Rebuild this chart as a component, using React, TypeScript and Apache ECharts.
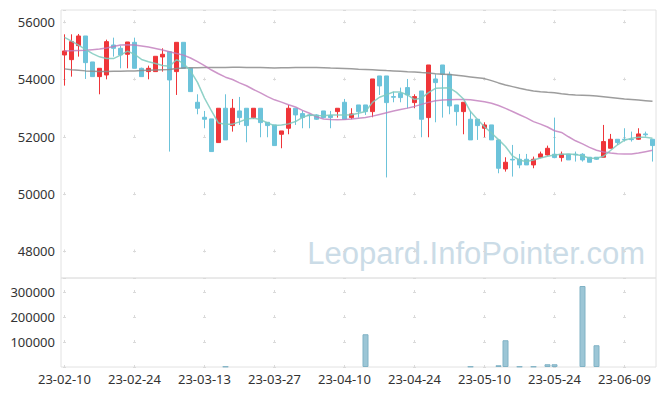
import React, { useEffect, useRef } from 'react';
import * as echarts from 'echarts';

const dates = [
  '23-02-10', '23-02-13', '23-02-14', '23-02-15', '23-02-16', '23-02-17', '23-02-20', '23-02-21', '23-02-22', '23-02-23',
  '23-02-24', '23-02-27', '23-02-28', '23-03-02', '23-03-03', '23-03-06', '23-03-07', '23-03-08', '23-03-09', '23-03-10',
  '23-03-13', '23-03-14', '23-03-15', '23-03-16', '23-03-17', '23-03-20', '23-03-21', '23-03-22', '23-03-23', '23-03-24',
  '23-03-27', '23-03-28', '23-03-29', '23-03-30', '23-03-31', '23-04-03', '23-04-04', '23-04-05', '23-04-06', '23-04-07',
  '23-04-10', '23-04-11', '23-04-12', '23-04-13', '23-04-14', '23-04-17', '23-04-18', '23-04-19', '23-04-20', '23-04-21',
  '23-04-24', '23-04-25', '23-04-26', '23-04-27', '23-04-28', '23-05-02', '23-05-03', '23-05-04', '23-05-08', '23-05-09',
  '23-05-10', '23-05-11', '23-05-12', '23-05-15', '23-05-16', '23-05-17', '23-05-18', '23-05-19', '23-05-22', '23-05-23',
  '23-05-24', '23-05-25', '23-05-26', '23-05-30', '23-05-31', '23-06-01', '23-06-02', '23-06-05', '23-06-07', '23-06-08',
  '23-06-09', '23-06-12', '23-06-13', '23-06-14', '23-06-15',
];

// [open, close, low, high]
const candles = [
  [54855, 54995, 53785, 55576], [54692, 55320, 54099, 55576], [55181, 55518, 54797, 55588], [55518, 54588, 54018, 55518],
  [54611, 54099, 54099, 54611], [54099, 54390, 53483, 54390], [54157, 55320, 54006, 55390], [55204, 55088, 54797, 55460],
  [55088, 54855, 54390, 55181], [54879, 55309, 54390, 55309], [55297, 54390, 54390, 55460], [54390, 54099, 54099, 54413],
  [54274, 54390, 54006, 54483], [54274, 54809, 54274, 54809], [54786, 54879, 54274, 55088], [54970, 53983, 51483, 54970],
  [54274, 55297, 53460, 55297], [55297, 54390, 54390, 55297], [54390, 53576, 53576, 54390], [53204, 52995, 52785, 53483],
  [52681, 52611, 52297, 52902], [52623, 51483, 51483, 52623], [51797, 52995, 51797, 52995], [52995, 51890, 51890, 53483],
  [52390, 52995, 52180, 53320], [52902, 52669, 52413, 53390], [52995, 52390, 51808, 52995], [52669, 52995, 52622, 52995],
  [52995, 52494, 51983, 52995], [52506, 52390, 51983, 52506], [52413, 51692, 51692, 52413], [52087, 52204, 51599, 52204],
  [52297, 52995, 52087, 53111], [52995, 52762, 52413, 52995], [52808, 52669, 52297, 52902], [52762, 52739, 52297, 52785],
  [52762, 52611, 52588, 52785], [52902, 52669, 52646, 52902], [52739, 52669, 52297, 52902], [52878, 52995, 52669, 52995],
  [53204, 52611, 52611, 53320], [52669, 52797, 52611, 52995], [53111, 52878, 52669, 53111], [53111, 52878, 52762, 53111],
  [52878, 54018, 52681, 54018], [54123, 53774, 53460, 54123], [54123, 53192, 50580, 54123], [53402, 53380, 53204, 53576],
  [53518, 53367, 53204, 53716], [53716, 53460, 52995, 54018], [53192, 53402, 52995, 53483], [53599, 52611, 51983, 53599],
  [52669, 54506, 51983, 54506], [54018, 53890, 52506, 54181], [54506, 54181, 52669, 54506], [54181, 53076, 52785, 54274],
  [53111, 52878, 52390, 53111], [52878, 53204, 52087, 53204], [52611, 51890, 51890, 52902], [52611, 52390, 51890, 52611],
  [52297, 52413, 51983, 52506], [52413, 51890, 51890, 52413], [51890, 50901, 50726, 51890], [50877, 51110, 50784, 51284],
  [51215, 51190, 50610, 51715], [51215, 51017, 50901, 51401], [51215, 51017, 51017, 51401], [51017, 51215, 50901, 51308],
  [51284, 51401, 51249, 51482], [51366, 51598, 51343, 51691], [51390, 51273, 51250, 52669], [51273, 51390, 51134, 51483],
  [51390, 51192, 51192, 51390], [51390, 51370, 51134, 51483], [51390, 51192, 51134, 51425], [51285, 51110, 51110, 51285],
  [51285, 51215, 51190, 51285], [51285, 51832, 51285, 52413], [51599, 51913, 51599, 52099], [51913, 51797, 51715, 51913],
  [51913, 51900, 51832, 52297], [51913, 51900, 51832, 52180], [51913, 52099, 51890, 52297], [52099, 52070, 52006, 52180],
  [51913, 51692, 51134, 51913],
];

const volumes = [
  0, 0, 0, 0, 0, 0, 0, 0, 0, 0,
  0, 0, 0, 0, 0, 0, 0, 0, 0, 0,
  0, 0, 0, 2000, 0, 0, 0, 0, 0, 0,
  0, 0, 0, 0, 0, 0, 0, 0, 0, 0,
  0, 0, 0, 131000, 0, 0, 0, 0, 0, 0,
  0, 0, 0, 0, 0, 0, 0, 0, 2000, 0,
  0, 0, 7000, 107000, 0, 2000, 0, 2000, 0, 11000,
  11000, 0, 0, 0, 324000, 0, 87000, 0, 0, 0,
  0, 0, 0, 0, 0,
];

const ma5 = [
  55470, 55340, 55200, 55050, 54900, 54790, 54730, 54730, 54850, 54990,
  54880, 54700, 54620, 54560, 54490, 54460, 54690, 54560, 54300, 53900,
  53350, 52900, 52480, 52440, 52440, 52520, 52620, 52650, 52600, 52480,
  52390, 52410, 52450, 52530, 52680, 52760, 52740, 52730, 52760, 52760,
  52760, 52770, 52820, 52880, 53200, 53380, 53470, 53560, 53560, 53460,
  53300, 53350, 53540, 53690, 53700, 53710, 53550, 53320, 52880, 52600,
  52350, 52130, 51900, 51660, 51330, 51180, 51140, 51190, 51260, 51320,
  51360, 51390, 51400, 51380, 51340, 51250, 51250, 51320, 51520, 51720,
  51880, 51950, 51980, 51980, 51950,
];

const ma20 = [
  54990, 55000, 55010, 55020, 55040, 55060, 55100, 55150, 55200, 55210,
  55200, 55170, 55130, 55080, 55030, 54970, 54910, 54850, 54750, 54620,
  54480, 54330, 54200, 54080, 54000, 53880, 53780, 53650, 53530, 53400,
  53290, 53210, 53120, 53040, 52920, 52820, 52700, 52620, 52600, 52590,
  52600, 52620, 52650, 52670, 52720, 52780, 52840, 52900, 52950, 53000,
  53060, 53130, 53200, 53260, 53280, 53295, 53300, 53300, 53290, 53260,
  53220, 53170, 53090, 52990, 52880, 52770, 52660, 52530, 52440, 52340,
  52210, 52150, 52000, 51860, 51750, 51630, 51530, 51470, 51430, 51410,
  51400, 51400, 51430, 51480, 51530,
];

const ma60 = [
  54370, 54340, 54320, 54300, 54290, 54280, 54280, 54285, 54290, 54295,
  54300, 54310, 54320, 54330, 54340, 54350, 54380, 54400, 54410, 54410,
  54415, 54415, 54420, 54420, 54425, 54425, 54420, 54420, 54415, 54410,
  54400, 54405, 54410, 54415, 54415, 54415, 54415, 54410, 54400, 54395,
  54385, 54370, 54355, 54345, 54335, 54325, 54310, 54300, 54285, 54270,
  54260, 54240, 54225, 54200, 54185, 54170, 54150, 54120, 54090, 54060,
  54030, 53960, 53880, 53810, 53750, 53690, 53640, 53600, 53570, 53550,
  53535, 53500, 53475, 53460, 53450, 53440, 53420, 53395, 53370, 53345,
  53320, 53300, 53280, 53260, 53240,
];

const UP = '#ef3539';
const DOWN = '#6cc3da';
const CROSS = '#dadada';
const BORDER = '#e2e2e2';
const LABEL = '#333333';
const FONT = 'Noto Sans';

export default function App() {
  const ref = useRef<HTMLDivElement>(null);

  useEffect(() => {
    const chart = echarts.init(ref.current as HTMLDivElement, null, { renderer: 'svg' });
    chart.setOption({
      animation: false,
      backgroundColor: '#ffffff',
      grid: [
        { left: 61, width: 595, top: 10, height: 268, show: true, borderColor: BORDER, borderWidth: 1, backgroundColor: 'transparent' },
        { left: 61, width: 595, top: 278, height: 89, show: true, borderColor: BORDER, borderWidth: 1, backgroundColor: 'transparent' },
      ],
      xAxis: [
        {
          type: 'category', gridIndex: 0, data: dates, boundaryGap: true,
          axisLine: { show: false }, axisTick: { show: false }, axisLabel: { show: false },
          splitLine: {
            show: true, interval: 9, alignWithLabel: true,
            lineStyle: { color: CROSS, width: 1, type: [3, 54.295], dashOffset: 46.61 },
          },
        },
        {
          type: 'category', gridIndex: 1, data: dates, boundaryGap: true,
          axisLine: { show: false }, axisTick: { show: false },
          axisLabel: { show: true, interval: 9, color: LABEL, fontSize: 13, fontFamily: FONT, margin: 5 },
          splitLine: {
            show: true, interval: 9, alignWithLabel: true,
            lineStyle: { color: CROSS, width: 1, type: [3, 22], dashOffset: 12.5 },
          },
        },
      ],
      yAxis: [
        {
          type: 'value', gridIndex: 0, min: 47070, max: 56425, splitNumber: 5, scale: true,
          axisLine: { show: false }, axisTick: { show: false },
          axisLabel: {
            color: LABEL, fontSize: 13, fontFamily: FONT, margin: 6,
            formatter: (v: number) => (v % 2000 === 0 ? String(v) : ''),
          },
          splitLine: { show: true, lineStyle: { color: CROSS, width: 1, type: [3, 67], dashOffset: 68 } },
        },
        {
          type: 'value', gridIndex: 1, min: 0, max: 356000, interval: 100000,
          axisLine: { show: false }, axisTick: { show: false },
          axisLabel: {
            color: LABEL, fontSize: 13, fontFamily: FONT, margin: 6,
            formatter: (v: number) => (v > 0 && v % 100000 === 0 ? String(v) : ''),
          },
          splitLine: { show: true, lineStyle: { color: CROSS, width: 1, type: [3, 67], dashOffset: 68 } },
        },
      ],
      graphic: [
        {
          type: 'text', x: 645, y: 253, z: 0, silent: true,
          style: {
            text: 'Leopard.InfoPointer.com', fill: '#cbdce7', fontSize: 31,
            fontFamily: 'Liberation Sans', textAlign: 'right', textVerticalAlign: 'middle',
          },
        },
      ],
      series: [
        {
          type: 'candlestick', xAxisIndex: 0, yAxisIndex: 0, data: candles, barWidth: 5,
          itemStyle: { color: UP, color0: DOWN, borderColor: UP, borderColor0: DOWN, borderWidth: 1 },
        },
        {
          type: 'line', xAxisIndex: 0, yAxisIndex: 0, data: ma60, symbol: 'none',
          lineStyle: { color: '#8c8c8c', width: 1.5, opacity: 0.85 },
        },
        {
          type: 'line', xAxisIndex: 0, yAxisIndex: 0, data: ma20, symbol: 'none',
          lineStyle: { color: '#c07bbb', width: 1.5, opacity: 0.8 },
        },
        {
          type: 'line', xAxisIndex: 0, yAxisIndex: 0, data: ma5, symbol: 'none',
          lineStyle: { color: '#7ecabe', width: 1.5, opacity: 0.85 },
        },
        {
          type: 'bar', xAxisIndex: 1, yAxisIndex: 1,
          data: volumes.map((v) => (v === 0 ? '-' : v)), barWidth: 6,
          itemStyle: { color: '#9cc6d6', borderColor: '#80b2c5', borderWidth: 1 },
        },
      ],
    });
    return () => chart.dispose();
  }, []);

  return (
    <div
      ref={ref}
      style={{ position: 'fixed', left: 0, top: 0, width: 665, height: 396, background: '#ffffff' }}
    />
  );
}
